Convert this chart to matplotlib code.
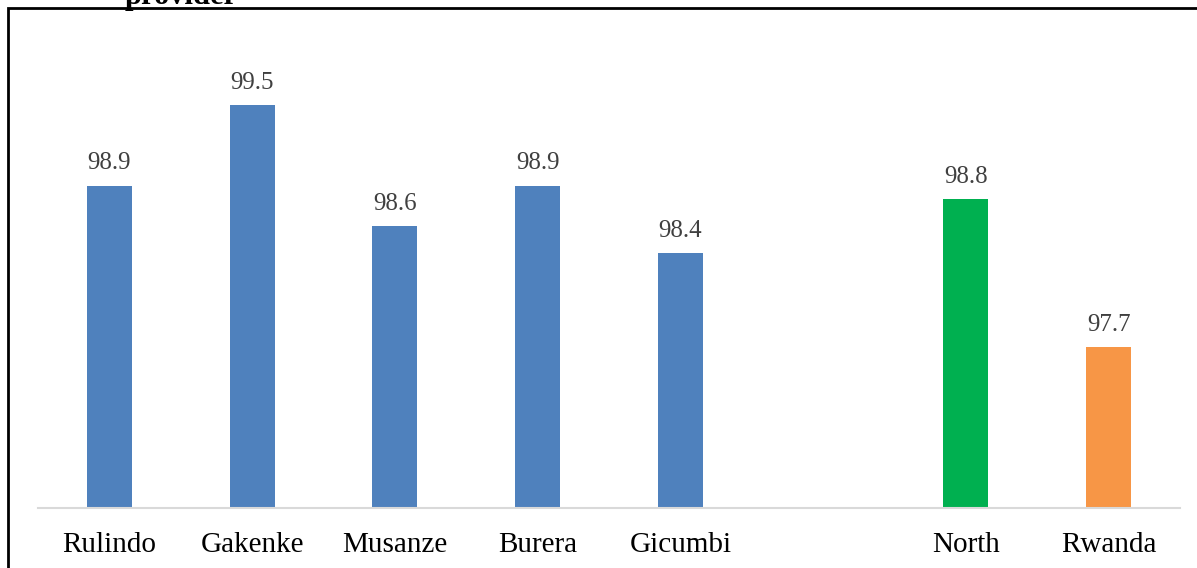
import matplotlib.pyplot as plt
from matplotlib.patches import Rectangle

categories = ["Rulindo", "Gakenke", "Musanze", "Burera", "Gicumbi", "", "North", "Rwanda"]
values = [98.9, 99.5, 98.6, 98.9, 98.4, None, 98.8, 97.7]
bar_colors = ["#4F81BD"] * 5 + ["#FFFFFF", "#00B050", "#F79646"]

W, H = 1197, 568

plt.rcParams["font.family"] = ["Liberation Serif", "DejaVu Serif"]

fig = plt.figure(figsize=(W / 100, H / 100), dpi=100)

ax_left = 38 / W
ax_right = 1180 / W
ax_bottom = 1 - 508 / H
ax_top = 1 - 37.8 / H
ax = fig.add_axes([ax_left, ax_bottom, ax_right - ax_left, ax_top - ax_bottom])

x = list(range(len(categories)))
for i, (val, col) in enumerate(zip(values, bar_colors)):
    if val is None:
        continue
    ax.bar(i, val - 96.5, bottom=96.5, width=0.315, color=col, zorder=2)
    ax.annotate(
        f"{val:.1f}",
        xy=(i, val),
        xytext=(0, 8),
        textcoords="offset points",
        ha="center",
        va="bottom",
        fontsize=18,
        color="#404040",
    )

ax.set_xlim(-0.5, len(categories) - 0.5)
ax.set_ylim(96.5, 100)
ax.set_xticks(x)
ax.set_xticklabels(categories, fontsize=21, color="black")
ax.tick_params(axis="x", length=0, pad=17)
ax.set_yticks([])

for side in ["top", "right", "left"]:
    ax.spines[side].set_visible(False)
ax.spines["bottom"].set_color("#D9D9D9")
ax.spines["bottom"].set_linewidth(1.5)

# outer frame of the chart (only top and left edges are inside the picture)
frame = Rectangle(
    (8 / W, -0.1),
    1.2,
    1.1 - 8 / H,
    transform=fig.transFigure,
    fill=False,
    edgecolor="black",
    linewidth=2,
)
fig.patches.append(frame)

# clipped caption line from above
fig.text(125 / W, 1 - 4 / H, "provider", fontsize=22, fontweight="bold",
         ha="left", va="baseline", color="black")

fig.savefig("out.png", dpi=100)
